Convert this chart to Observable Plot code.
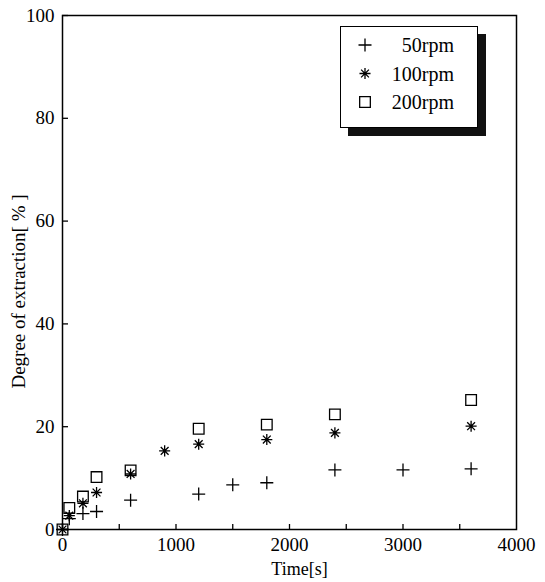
<!DOCTYPE html>
<html>
<head>
<meta charset="utf-8">
<script src="https://cdn.jsdelivr.net/npm/d3@7"></script>
<script src="https://cdn.jsdelivr.net/npm/@observablehq/plot@0.6"></script>
<style>
  body { margin: 0; background: #fff; }
  #chart { position: relative; width: 545px; height: 582px; font-family: "Liberation Serif", "DejaVu Serif", serif; }
  #chart svg { font-family: "Liberation Serif", "DejaVu Serif", serif; }
  .legend {
    position: absolute; left: 340px; top: 26px; width: 136px; height: 100px;
    border: 1.5px solid #000; background: #fff; box-shadow: 8px 8px 0 #111;
  }
</style>
</head>
<body>
<div id="chart"></div>
<script>
// Extraction degree [%] against time [s] at three stirring speeds
const time50  = [0, 60, 180, 300, 600, 1200, 1500, 1800, 2400, 3000, 3600];
const ext50   = [0, 2.1, 3.1, 3.5, 5.7, 6.9, 8.7, 9.1, 11.6, 11.6, 11.8];

const time100 = [0, 60, 180, 300, 600, 900, 1200, 1800, 2400, 3600];
const ext100  = [0, 2.7, 5.1, 7.2, 10.8, 15.3, 16.6, 17.5, 18.8, 20.1];

const time200 = [0, 60, 180, 300, 600, 1200, 1800, 2400, 3600];
const ext200  = [0, 4.2, 6.4, 10.2, 11.5, 19.6, 20.4, 22.4, 25.2];

const seriesNames = ["50rpm", "100rpm", "200rpm"];

const xTickLabels = [0, 1000, 2000, 3000, 4000];
const xTickMarks  = [500, 1000, 1500, 2000, 2500, 3000, 3500];
const yTicks      = [0, 20, 40, 60, 80, 100];

// Marker shapes: plus, eight-armed asterisk, open square
const plusSymbol = {
  draw(ctx, size) {
    const r = Math.sqrt(size / Math.PI);
    ctx.moveTo(-r, 0); ctx.lineTo(r, 0);
    ctx.moveTo(0, -r); ctx.lineTo(0, r);
  }
};
const starSymbol = {
  draw(ctx, size) {
    const r = Math.sqrt(size / Math.PI) * 0.85;
    for (let k = 0; k < 4; k++) {
      const a = k * Math.PI / 4;
      const c = Math.cos(a) * r, s = Math.sin(a) * r;
      ctx.moveTo(-c, -s); ctx.lineTo(c, s);
    }
  }
};
const squareSymbol = {
  draw(ctx, size) {
    const h = Math.sqrt(size / Math.PI) * 0.82;
    ctx.rect(-h, -h, 2 * h, 2 * h);
  }
};
const symbols = [plusSymbol, starSymbol, squareSymbol];

const toRows = (times, values, name) => times.map((t, i) => ({time: t, value: values[i], series: name}));
const rows50  = toRows(time50, ext50, seriesNames[0]);
const rows100 = toRows(time100, ext100, seriesNames[1]);
const rows200 = toRows(time200, ext200, seriesNames[2]);

const dotStyle = {stroke: "#000", fill: "none", strokeWidth: 1.3, r: 6.5};
const fontSize = 18;
const tickFontSize = 19;

const plot = Plot.plot({
  width: 545,
  height: 582,
  marginLeft: 62,
  marginRight: 29,
  marginTop: 15,
  marginBottom: 53,
  style: {background: "#fff", color: "#000", fontSize: fontSize + "px", fontFamily: "Liberation Serif, serif"},
  x: {domain: [0, 4000]},
  y: {domain: [0, 100]},
  marks: [
    Plot.frame({stroke: "#000", strokeWidth: 1.5}),
    // inward tick marks
    Plot.axisX(xTickMarks, {tickSize: -5, tickFormat: () => "", strokeWidth: 1.3, label: null}),
    Plot.axisY(yTicks, {tickSize: -6, tickFormat: () => "", strokeWidth: 1.3, label: null}),
    // tick labels
    Plot.axisX(xTickLabels, {tickSize: 0, tickPadding: 8, fontSize: tickFontSize, tickFormat: d3.format("d"), label: null}),
    Plot.axisY(yTicks, {tickSize: 0, tickPadding: 8, fontSize: tickFontSize, tickFormat: d3.format("d"), label: null}),
    // axis titles
    Plot.text(["Time[s]"], {frameAnchor: "bottom", dx: 10, dy: 40, fontSize, lineAnchor: "middle"}),
    Plot.text(["Degree of extraction[ % ]"], {frameAnchor: "left", textAnchor: "middle", dx: -44, dy: 19, rotate: -90, fontSize: 19, lineAnchor: "middle"}),
    // data
    Plot.dot(rows50,  {x: "time", y: "value", symbol: plusSymbol, ...dotStyle}),
    Plot.dot(rows100, {x: "time", y: "value", symbol: starSymbol, ...dotStyle}),
    Plot.dot(rows200, {x: "time", y: "value", symbol: squareSymbol, ...dotStyle})
  ]
});

const chart = document.getElementById("chart");
chart.appendChild(plot);

// Legend box with drop shadow
const legend = document.createElement("div");
legend.className = "legend";
chart.appendChild(legend);
const lsvg = d3.select(legend).append("svg").attr("width", 136).attr("height", 100);
seriesNames.forEach((name, i) => {
  const cy = 18 + i * 28.5;
  const p = d3.path();
  symbols[i].draw(p, Math.PI * 6.5 * 6.5);
  lsvg.append("path")
    .attr("d", p.toString())
    .attr("transform", `translate(24,${cy})`)
    .attr("fill", "none").attr("stroke", "#000").attr("stroke-width", 1.3);
  lsvg.append("text")
    .attr("x", 113).attr("y", cy).attr("dy", "0.35em")
    .attr("text-anchor", "end")
    .attr("font-size", 20)
    .attr("font-family", "Liberation Serif, serif")
    .text(name);
});
</script>
</body>
</html>
